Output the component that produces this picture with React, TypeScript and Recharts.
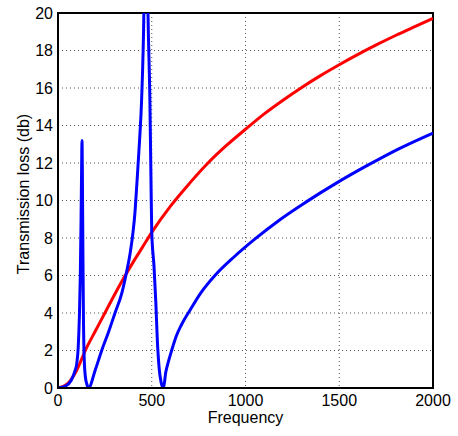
import React from 'react';
import { LineChart, Line, XAxis, YAxis, CartesianGrid, ReferenceArea } from 'recharts';

// red curve (smooth rise)
const redFreq = [0, 50, 100, 150, 200, 250, 300, 350, 400, 450, 500, 600, 700, 800, 900, 1000, 1100, 1200, 1300, 1400, 1500, 1600, 1700, 1800, 1900, 2000];
const redLoss = [0, 0.22, 0.95, 2.1, 3.05, 4.0, 4.95, 5.85, 6.7, 7.5, 8.3, 9.7, 10.9, 12.0, 12.95, 13.8, 14.62, 15.35, 16.03, 16.66, 17.24, 17.79, 18.31, 18.8, 19.26, 19.71];

// blue curve (two resonance peaks)
const blueFreq = [0, 40, 70, 90, 100, 108, 114, 119, 123, 126, 128, 130, 133, 136, 140, 146, 154, 162, 200, 233, 270, 304, 340, 366, 385, 400, 410, 420, 435, 446, 458, 469, 480, 490, 496, 500, 512, 522, 530, 540, 550, 562, 575, 590, 606, 630, 660, 704, 760, 837, 940, 1051, 1180, 1320, 1480, 1650, 1820, 2000];
const blueLoss = [0, 0.1, 0.4, 0.9, 1.3, 2.2, 3.8, 6, 9, 11.8, 13.2, 11.5, 7, 3.5, 1.5, 0.6, 0.2, 0, 1.0, 2.0, 3.0, 4.0, 5.05, 6.2, 7.2, 8.3, 9.3, 10.8, 13.2, 15.4, 20, 30, 20, 15.4, 11, 8.3, 6.5, 4.5, 2.5, 1.0, 0.3, 0, 0.85, 1.45, 2.0, 2.75, 3.4, 4.15, 5.05, 6.0, 7.0, 7.95, 8.95, 9.9, 10.9, 11.87, 12.77, 13.6];

const xTicks = [0, 500, 1000, 1500, 2000];
const yTicks = [0, 2, 4, 6, 8, 10, 12, 14, 16, 18, 20];

const redData = redFreq.map((f, i) => ({ f, v: redLoss[i] }));
const blueData = blueFreq.map((f, i) => ({ f, v: blueLoss[i] }));

const font = '"Liberation Sans", Arial, sans-serif';

export default function App() {
  return (
    <div style={{ position: 'absolute', left: 0, top: 0, width: 458, height: 436, background: '#fff' }}>
      <LineChart width={458} height={436} margin={{ top: 13, right: 25, bottom: 0, left: 0 }}>
        <CartesianGrid stroke="#555" strokeDasharray="1 3" />
        <XAxis
          dataKey="f"
          type="number"
          domain={[0, 2000]}
          ticks={xTicks}
          allowDataOverflow
          height={48}
          tickLine={false}
          tickSize={5}
          tickMargin={2}
          axisLine={{ stroke: '#000', strokeWidth: 2 }}
          tick={{ fill: '#000', fontSize: 16, fontFamily: font }}
          label={{
            content: () => (
              <text x={245.5} y={423} textAnchor="middle" fill="#000" fontSize={16} fontFamily={font}>
                Frequency
              </text>
            ),
          }}
        />
        <YAxis
          type="number"
          domain={[0, 20]}
          ticks={yTicks}
          allowDataOverflow
          width={58}
          tickLine={false}
          tickSize={3}
          tickMargin={2}
          axisLine={{ stroke: '#000', strokeWidth: 2 }}
          tick={{ fill: '#000', fontSize: 16, fontFamily: font }}
          label={{
            content: () => (
              <text x={23.5} y={194} transform="rotate(-90 23.5 194)" textAnchor="middle" dominantBaseline="central" fill="#000" fontSize={16} fontFamily={font}>
                Transmission loss (db)
              </text>
            ),
          }}
        />
        <Line data={redData} dataKey="v" type="monotone" stroke="#ff0000" strokeWidth={3} dot={false} isAnimationActive={false} />
        <Line data={blueData} dataKey="v" type="monotone" stroke="#0000ff" strokeWidth={3} dot={false} isAnimationActive={false} />
        <ReferenceArea x1={0} x2={2000} y1={0} y2={20} fill="none" stroke="#000" strokeWidth={2} ifOverflow="visible" />
      </LineChart>
    </div>
  );
}
